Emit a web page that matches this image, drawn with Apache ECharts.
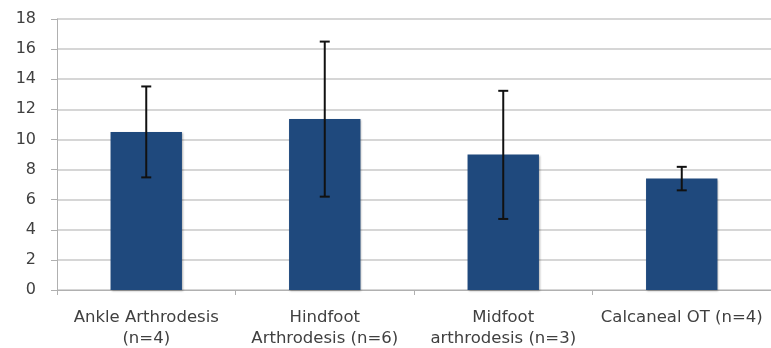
<!DOCTYPE html>
<html>
<head>
<meta charset="utf-8">
<script src="https://cdn.jsdelivr.net/npm/echarts@6/dist/echarts.min.js"></script>
<style>
html,body{margin:0;padding:0;background:#fff;}
#chart{width:771px;height:348px;}
</style>
</head>
<body>
<div id="chart"></div>
<script>
const categories = ["Ankle Arthrodesis\n(n=4)", "Hindfoot\nArthrodesis (n=6)", "Midfoot\narthrodesis (n=3)", "Calcaneal OT (n=4)"];
const means = [10.5, 11.35, 9.0, 7.4];
const errLow = [7.48, 6.2, 4.72, 6.62];
const errHigh = [13.52, 16.5, 13.23, 8.18];
const yTicks = [0, 2, 4, 6, 8, 10, 12, 14, 16, 18];

const chart = echarts.init(document.getElementById('chart'));
const errData = categories.map((c, i) => [i, errLow[i], errHigh[i]]);
chart.setOption({
  animation: false,
  backgroundColor: '#ffffff',
  grid: {left: 57, right: 0, top: 19, bottom: 58, containLabel: false, outerBoundsMode: 'none'},
  xAxis: {
    type: 'category',
    data: categories,
    axisLine: {lineStyle: {color: '#b0b0b0', width: 1}},
    axisTick: {show: true, length: 5, lineStyle: {color: '#b0b0b0'}, alignWithLabel: false},
    axisLabel: {
      color: '#404040', fontFamily: 'DejaVu Sans', fontSize: 16.5, lineHeight: 21,
      margin: 17, interval: 0, hideOverlap: false
    },
    splitLine: {show: false}
  },
  yAxis: {
    type: 'value', min: yTicks[0], max: yTicks[yTicks.length - 1], interval: 2,
    axisLine: {show: true, lineStyle: {color: '#b0b0b0', width: 1}},
    axisTick: {show: true, length: 6, lineStyle: {color: '#b0b0b0'}},
    axisLabel: {color: '#404040', fontFamily: 'DejaVu Sans', fontSize: 16, margin: 21},
    splitLine: {lineStyle: {color: '#c8c8c8', width: 1.5}}
  },
  series: [
    {
      type: 'bar',
      data: means,
      barWidth: '40%',
      itemStyle: {color: '#1f497d', shadowBlur: 2, shadowColor: 'rgba(0,0,0,0.3)', shadowOffsetX: 1, shadowOffsetY: 1}
    },
    {
      type: 'custom',
      data: errData,
      z: 10,
      renderItem: function (params, api) {
        const x = api.value(0);
        const lo = api.coord([x, api.value(1)]);
        const hi = api.coord([x, api.value(2)]);
        const hw = 5;
        const style = {stroke: '#111', lineWidth: 2};
        return {
          type: 'group',
          children: [
            {type: 'line', shape: {x1: lo[0], y1: lo[1], x2: hi[0], y2: hi[1]}, style: style},
            {type: 'line', shape: {x1: lo[0] - hw, y1: lo[1], x2: lo[0] + hw, y2: lo[1]}, style: style},
            {type: 'line', shape: {x1: hi[0] - hw, y1: hi[1], x2: hi[0] + hw, y2: hi[1]}, style: style}
          ]
        };
      }
    }
  ]
});
</script>
</body>
</html>
